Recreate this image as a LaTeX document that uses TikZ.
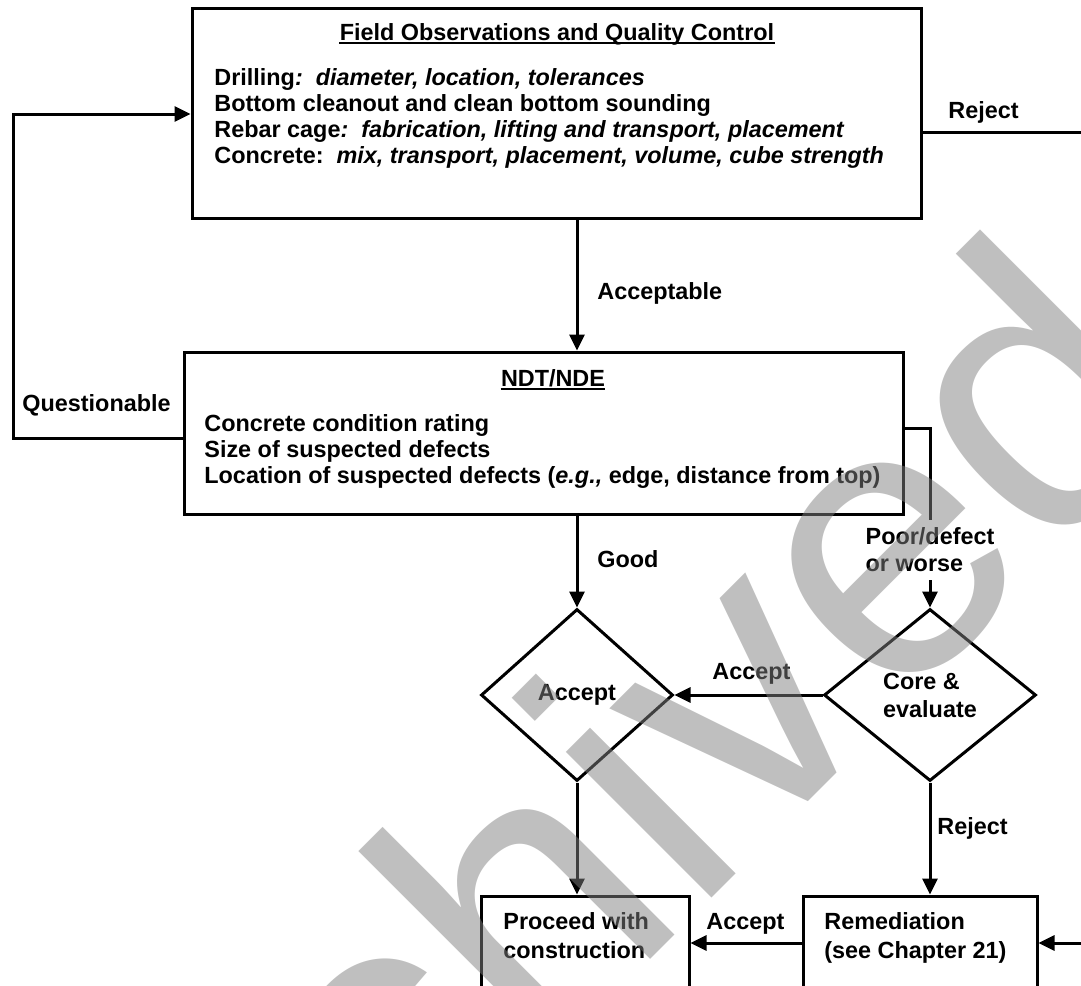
\documentclass[tikz,border=0pt]{standalone}
\usepackage{fontspec}
\setmainfont{Liberation Sans}
\usetikzlibrary{arrows.meta,shapes.geometric,fit}

\tikzset{
  box/.style={draw, line width=1.5pt, inner sep=0pt},
  decision/.style={draw, diamond, line width=1.5pt, inner sep=0pt, align=left, font=\bfseries\fontsize{11.7}{14}\selectfont},
  txt/.style={inner sep=0pt, font=\bfseries\fontsize{11.7}{13.5}\selectfont},
  lbl/.style={fill=white, inner xsep=2pt, inner ysep=4pt, align=left, font=\bfseries\fontsize{11.7}{13.5}\selectfont},
  conn/.style={line width=1.5pt, -{Triangle[length=8pt,width=7.5pt]}},
  wire/.style={line width=1.5pt},
  uline/.style={line width=1pt},
  wmark/.style={inner sep=0pt, text=black!50, text opacity=0.5, font=\fontsize{195}{200}\selectfont}
}

\begin{document}
\begin{tikzpicture}[x=0.5pt,y=-0.5pt] % 1 unit = 1 pixel of the original, y downwards
\useasboundingbox (0,0) rectangle (1081,985);
\clip (0,0) rectangle (1081,985);

% boxes and decisions
\node[box, fit={(192,8) (921,218)}] (fobs) {};
\node[box, fit={(184,352) (903,514)}] (ndt) {};
\node[decision, minimum width=96pt, minimum height=86pt] (accd) at (577,695) {Accept};
\node[decision, minimum width=106pt, minimum height=86pt] (cored) at (930,695) {Core \&\\evaluate};
\node[box, fit={(481,896) (689,1010)}] (proc) {}; % runs off the bottom
\node[box, fit={(803,896) (1037,1010)}] (remed) {}; % runs off the bottom

% text of the field observations box
\node[txt, anchor=base] (fobstitle) at (557,40) {Field Observations and Quality Control};
\draw[uline] ([yshift=-1.5pt]fobstitle.base west) -- ([yshift=-1.5pt]fobstitle.base east);
\node[txt, anchor=base west] (fobs1) at (214,85) {Drilling\textit{:\ \ diameter, location, tolerances}};
\node[txt, anchor=base west] (fobs2) at (214,111) {Bottom cleanout and clean bottom sounding};
\node[txt, anchor=base west] (fobs3) at (214,137) {Rebar cage\textit{:\ \ fabrication, lifting and transport, placement}};
\node[txt, anchor=base west] (fobs4) at (214,163) {Concrete:\ \ \textit{mix, transport, placement, volume, cube strength}};

% text of the NDT/NDE box
\node[txt, anchor=base] (ndttitle) at (553,386) {NDT/NDE};
\draw[uline] ([yshift=-1.5pt]ndttitle.base west) -- ([yshift=-1.5pt]ndttitle.base east);
\node[txt, anchor=base west] (ndt1) at (204,431) {Concrete condition rating};
\node[txt, anchor=base west] (ndt2) at (204,457) {Size of suspected defects};
\node[txt, anchor=base west] (ndt3) at (204,483) {Location of suspected defects (\textit{e.g.,} edge, distance from top)};

% text of the bottom boxes
\node[txt, anchor=base west] (proc1) at (503,929) {Proceed with};
\node[txt, anchor=base west] (proc2) at (503,958) {construction};
\node[txt, anchor=base west] (remed1) at (824,929) {Remediation};
\node[txt, anchor=base west] (remed2) at (824,958) {(see Chapter 21)};

% helper coordinates
\coordinate (qy) at (0,438);
\coordinate (loopL) at (13,114);
\coordinate (rjA) at (1081,132);
\coordinate (pdy) at (0,428);
\coordinate (acy) at (0,943);
\coordinate (rjB) at (1081,943);

% connectors
\draw[conn] (fobs.south -| accd) -- (ndt.north -| accd);
\draw[conn] (ndt.west |- qy) -| (loopL) -- (fobs.west |- loopL);
\draw[wire] (fobs.east |- rjA) -- (rjA);
\draw[conn] (ndt.east |- pdy) -| (cored.north) node[lbl, pos=0.84] (poor) {Poor/defect\\or worse};
\draw[conn] (ndt.south -| accd) -- (accd.north);
\draw[conn] (cored.west) -- (accd.east);
\draw[conn] (accd.south) -- (proc.north -| accd);
\draw[conn] (cored.south) -- (remed.north -| cored);
\draw[conn] (remed.west |- acy) -- (proc.east |- acy);
\draw[conn] (rjB) -- (remed.east |- rjB);

% connector labels
\node[txt, anchor=base west] (lacc) at (597,299) {Acceptable};
\node[txt, anchor=base west] (lques) at (22,411) {Questionable};
\node[txt, anchor=base west] (lrej1) at (948,118) {Reject};
\node[txt, anchor=base west] (lgood) at (597,567) {Good};
\node[txt, anchor=base west] (lacc1) at (712,679) {Accept};
\node[txt, anchor=base west] (lrej2) at (937,834) {Reject};
\node[txt, anchor=base west] (lacc2) at (706,929) {Accept};

% watermark
\node[wmark, anchor=base west, rotate=45] (wm) at (126,1484) {Archived};
\end{tikzpicture}
\end{document}
